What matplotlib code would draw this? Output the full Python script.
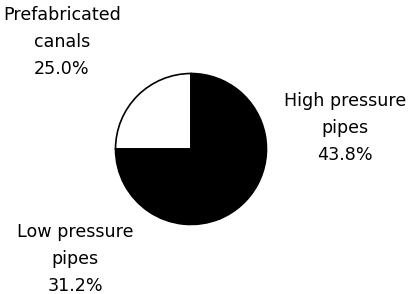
import matplotlib
matplotlib.use("Agg")
import matplotlib.pyplot as plt

categories = ["Prefabricated\ncanals", "Low pressure\npipes", "High pressure\npipes"]
values = [25.0, 31.2, 43.8]
colors = ["white", "black", "black"]

W, H = 414, 294
fig = plt.figure(figsize=(W / 100, H / 100), dpi=100)
cx, cy, r = 191, 149, 77
ax = fig.add_axes([(cx - r) / W, (H - cy - r) / H, 2 * r / W, 2 * r / H])
ax.pie(values, colors=colors, startangle=90, counterclock=True,
       wedgeprops=dict(edgecolor="black", linewidth=1.2))
ax.set_xlim(-1.02, 1.02)
ax.set_ylim(-1.02, 1.02)
ax.set_aspect("equal")
ax.axis("off")

label_pos = [(62, 42), (75, 259), (345, 128)]
for cat, v, (px, py) in zip(categories, values, label_pos):
    fig.text(px / W, 1 - py / H, f"{cat}\n{v:.1f}%", ha="center", va="center",
             multialignment="center", fontsize=12.6, linespacing=1.62,
             family="DejaVu Sans", color="black")

fig.savefig("out.png", dpi=100, facecolor="white")
